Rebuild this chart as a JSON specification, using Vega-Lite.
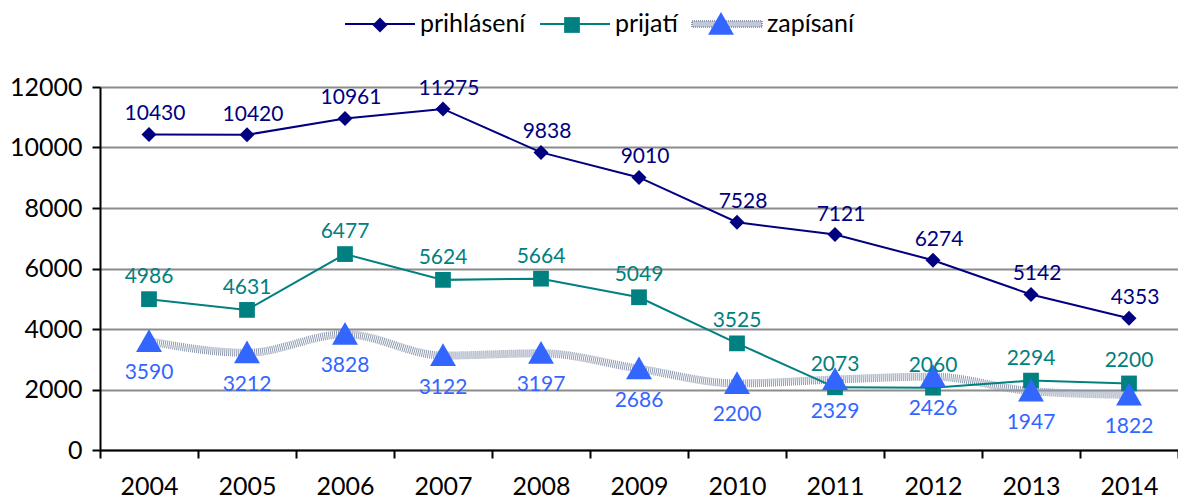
{
  "$schema": "https://vega.github.io/schema/vega-lite/v6.json",
  "width": 1078,
  "height": 363,
  "autosize": {"type": "none"},
  "padding": {"left": 100, "top": 87, "right": 0, "bottom": 50},
  "background": "white",
  "config": {"font": "Lato", "view": {"stroke": null}},
  "data": {"values": [
    {"year": "2004", "series": "prihlásení", "value": 10430},
    {"year": "2005", "series": "prihlásení", "value": 10420},
    {"year": "2006", "series": "prihlásení", "value": 10961},
    {"year": "2007", "series": "prihlásení", "value": 11275},
    {"year": "2008", "series": "prihlásení", "value": 9838},
    {"year": "2009", "series": "prihlásení", "value": 9010},
    {"year": "2010", "series": "prihlásení", "value": 7528},
    {"year": "2011", "series": "prihlásení", "value": 7121},
    {"year": "2012", "series": "prihlásení", "value": 6274},
    {"year": "2013", "series": "prihlásení", "value": 5142},
    {"year": "2014", "series": "prihlásení", "value": 4353},
    {"year": "2004", "series": "prijatí", "value": 4986},
    {"year": "2005", "series": "prijatí", "value": 4631},
    {"year": "2006", "series": "prijatí", "value": 6477},
    {"year": "2007", "series": "prijatí", "value": 5624},
    {"year": "2008", "series": "prijatí", "value": 5664},
    {"year": "2009", "series": "prijatí", "value": 5049},
    {"year": "2010", "series": "prijatí", "value": 3525},
    {"year": "2011", "series": "prijatí", "value": 2073},
    {"year": "2012", "series": "prijatí", "value": 2060},
    {"year": "2013", "series": "prijatí", "value": 2294},
    {"year": "2014", "series": "prijatí", "value": 2200},
    {"year": "2004", "series": "zapísaní", "value": 3590},
    {"year": "2005", "series": "zapísaní", "value": 3212},
    {"year": "2006", "series": "zapísaní", "value": 3828},
    {"year": "2007", "series": "zapísaní", "value": 3122},
    {"year": "2008", "series": "zapísaní", "value": 3197},
    {"year": "2009", "series": "zapísaní", "value": 2686},
    {"year": "2010", "series": "zapísaní", "value": 2200},
    {"year": "2011", "series": "zapísaní", "value": 2329},
    {"year": "2012", "series": "zapísaní", "value": 2426},
    {"year": "2013", "series": "zapísaní", "value": 1947},
    {"year": "2014", "series": "zapísaní", "value": 1822}
  ]},
  "encoding": {
    "x": {
      "field": "year", "type": "ordinal",
      "scale": {"type": "band", "paddingInner": 0, "paddingOuter": 0},
      "axis": {
        "title": null, "labelAngle": 0, "tickBand": "extent",
        "domainColor": "black", "domainWidth": 2,
        "tickColor": "black", "tickWidth": 2, "tickSize": 8,
        "labelFontSize": 25, "labelColor": "black", "labelPadding": 16,
        "grid": false
      }
    },
    "y": {
      "field": "value", "type": "quantitative",
      "scale": {"domain": [0, 12000], "nice": false},
      "axis": {
        "title": null, "values": [0, 2000, 4000, 6000, 8000, 10000, 12000],
        "format": "d",
        "grid": true, "gridColor": "#8c8c8c", "gridWidth": 2,
        "domainColor": "black", "domainWidth": 2,
        "tickColor": "black", "tickWidth": 2, "tickSize": 8,
        "labelFontSize": 25, "labelColor": "black", "labelPadding": 10
      }
    }
  },
  "layer": [
    {
      "transform": [{"filter": "datum.series === 'zapísaní'"}],
      "mark": {"type": "line", "interpolate": "monotone", "strokeWidth": 8, "strokeDash": [1, 1]},
      "encoding": {
        "stroke": {
          "field": "series", "type": "nominal",
          "scale": {"domain": ["prihlásení", "prijatí", "zapísaní"], "range": ["#000080", "#008080", "#8f9ab0"]},
          "legend": {
            "title": null, "orient": "none", "legendX": 244, "legendY": -99,
            "direction": "horizontal", "symbolType": "M-1,0H1", "symbolSize": 4900,
            "symbolStrokeWidth": 2, "labelFontSize": 25, "labelColor": "black",
            "labelOffset": 4, "columnPadding": 10,
            "encode": {"symbols": {"update": {
              "shape": {"signal": "(datum.value === 'zapísaní' ? 'M-1,-0.085H1V0.085H-1Z' : 'M-1,0H1')"},
              "fill": {"signal": "(datum.value === 'zapísaní' ? '#c3c9d6' : 'transparent')"},
              "strokeDash": {"signal": "(datum.value === 'zapísaní' ? [1,1] : [1,0])"}
            }}}
          }
        }
      }
    },
    {
      "transform": [{"filter": "datum.series !== 'zapísaní'"}],
      "mark": {"type": "line", "strokeWidth": 2},
      "encoding": {
        "stroke": {"field": "series", "type": "nominal"}
      }
    },
    {
      "mark": {"type": "point", "filled": true, "opacity": 1, "size": 4900, "strokeWidth": 0},
      "encoding": {
        "fill": {
          "field": "series", "type": "nominal",
          "scale": {"range": ["#000080", "#008080", "#3366ff"]},
          "legend": {
            "title": null, "orient": "none", "legendX": 244, "legendY": -99,
            "direction": "horizontal", "symbolSize": 4900,
            "symbolStrokeWidth": 2, "symbolStrokeColor": "transparent",
            "labelFontSize": 25, "labelOpacity": 0,
            "labelOffset": 4, "columnPadding": 10
          }
        },
        "shape": {
          "field": "series", "type": "nominal",
          "scale": {"range": ["M0,-0.215L0.215,0L0,0.215L-0.215,0Z", "M-0.225,-0.225H0.225V0.225H-0.225Z", "M0,-0.35L0.37,0.3L-0.37,0.3Z"]},
          "legend": {
            "title": null, "orient": "none", "legendX": 244, "legendY": -99,
            "direction": "horizontal", "symbolSize": 4900,
            "symbolStrokeWidth": 2, "symbolStrokeColor": "transparent",
            "labelFontSize": 25, "labelOpacity": 0,
            "labelOffset": 4, "columnPadding": 10
          }
        }
      }
    },
    {
      "transform": [{"filter": "datum.series === 'prihlásení'"}],
      "mark": {"type": "text", "fontSize": 21, "color": "#000080", "dy": -20, "dx": 6},
      "encoding": {"text": {"field": "value", "type": "quantitative", "format": "d"}}
    },
    {
      "transform": [{"filter": "datum.series === 'prijatí'"}],
      "mark": {"type": "text", "fontSize": 21, "color": "#008080", "dy": -22},
      "encoding": {"text": {"field": "value", "type": "quantitative", "format": "d"}}
    },
    {
      "transform": [{"filter": "datum.series === 'zapísaní'"}],
      "mark": {"type": "text", "fontSize": 21, "color": "#3366ff", "dy": 32},
      "encoding": {"text": {"field": "value", "type": "quantitative", "format": "d"}}
    }
  ]
}
